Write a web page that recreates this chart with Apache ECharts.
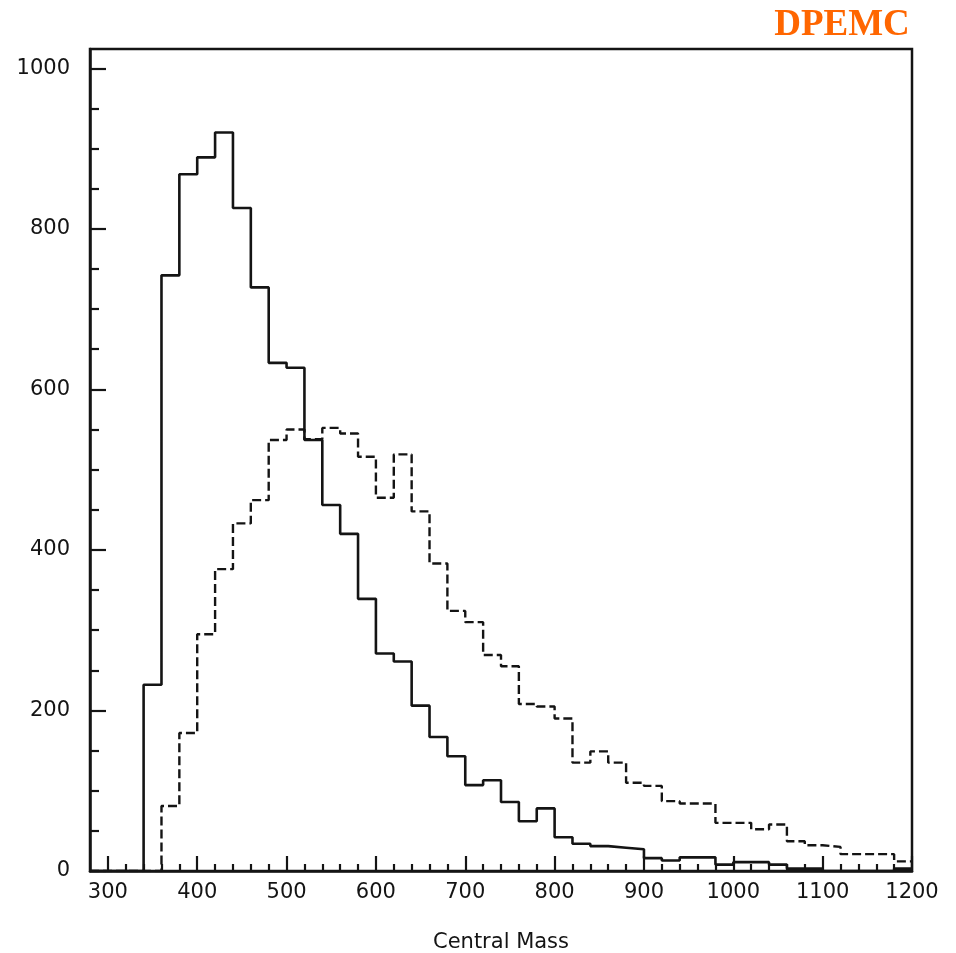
<!DOCTYPE html>
<html>
<head>
<meta charset="utf-8">
<script src="https://cdn.jsdelivr.net/npm/echarts@6/dist/echarts.min.js"></script>
<style>
html,body{margin:0;padding:0;background:#fff;}
#chart{width:956px;height:953px;}
</style>
</head>
<body>
<div id="chart"></div>
<script>
// bin lower edges (bin width 20), last edge 1200 closes the histogram
const binLow = [280,300,320,340,360,380,400,420,440,460,480,500,520,540,560,580,600,620,640,660,
  680,700,720,740,760,780,800,820,840,860,880,900,920,940,960,980,1000,1020,1040,1060,
  1080,1100,1120,1140,1160,1180];
const binEnd = 1200;
// solid histogram
const solidVals = [0,0,0,232,742,868,889,920,826,727,633,627,537,456,420,339,271,261,206,167,
  143,107,113,86,62,78,42,34,31,29,27,16,13,17,17,8,11,11,8,3,
  3,0,0,0,0,3];
// dashed histogram
const dashedVals = [0,0,0,0,81,172,295,376,433,462,537,550,538,552,545,516,465,519,448,383,
  324,310,269,255,208,205,190,135,149,135,110,106,87,84,84,60,60,52,58,37,
  32,30,21,21,21,12];
// axis ticks / labels
const xMajor = [300,400,500,600,700,800,900,1000,1100,1200];
const xMinor = [320,340,360,380,420,440,460,480,520,540,560,580,620,640,660,680,720,740,760,780,
  820,840,860,880,920,940,960,980,1020,1040,1060,1080,1120,1140,1160,1180];
const yMajor = [0,200,400,600,800,1000];
const yMinor = [50,100,150,250,300,350,450,500,550,650,700,750,850,900,950];
const xName = 'Central Mass';
const tag = 'DPEMC';

function stepData(vals){
  const d = binLow.map((x,i)=>[x, vals[i]]);
  d.push([binEnd, vals[vals.length-1]]);
  return d;
}

const FONT = 'DejaVu Sans';
const INK = '#141414';
const plain = v => String(v);
const chart = echarts.init(document.getElementById('chart'), null, {renderer:'canvas'});
chart.setOption({
  animation:false,
  backgroundColor:'#ffffff',
  grid:{left:90, right:44, top:49, bottom:82, containLabel:false, outerBoundsMode:'none',
    show:true, borderColor:INK, borderWidth:2.5, backgroundColor:'transparent'},
  graphic:[{
    type:'text', x:842, y:25,
    style:{text:tag, textAlign:'center', textVerticalAlign:'middle',
      font:'bold 37px "Liberation Serif", "Times New Roman", serif', fill:'#FF6600'}
  }],
  xAxis:[{
    type:'value', min:280, max:1200, position:'bottom',
    axisLine:{show:true, onZero:false, lineStyle:{color:INK, width:2.5}},
    axisTick:{show:true, inside:true, length:15, customValues:xMajor, lineStyle:{color:INK, width:2.2}},
    axisLabel:{show:true, customValues:xMajor, formatter:plain, margin:11, fontFamily:FONT, fontSize:21, color:INK},
    splitLine:{show:false},
    name:xName, nameLocation:'middle', nameGap:61,
    nameTextStyle:{fontFamily:FONT, fontSize:21, color:INK}
  },{
    type:'value', min:280, max:1200, position:'bottom',
    axisLine:{show:false},
    axisTick:{show:true, inside:true, length:7, customValues:xMinor, lineStyle:{color:INK, width:2.2}},
    axisLabel:{show:false},
    splitLine:{show:false}
  }],
  yAxis:[{
    type:'value', min:0, max:1024, position:'left',
    axisLine:{show:true, onZero:false, lineStyle:{color:INK, width:2.5}},
    axisTick:{show:true, inside:true, length:16, customValues:yMajor, lineStyle:{color:INK, width:2.2}},
    axisLabel:{show:true, customValues:yMajor, formatter:plain, margin:20, fontFamily:FONT, fontSize:21, color:INK},
    splitLine:{show:false}
  },{
    type:'value', min:0, max:1024, position:'left',
    axisLine:{show:false},
    axisTick:{show:true, inside:true, length:9, customValues:yMinor, lineStyle:{color:INK, width:2.2}},
    axisLabel:{show:false},
    splitLine:{show:false}
  }],
  series:[{
    type:'line', step:'end', data:stepData(solidVals), symbol:'none',
    lineStyle:{color:INK, width:2.6, type:'solid'}, z:3
  },{
    type:'line', step:'end', data:stepData(dashedVals), symbol:'none',
    lineStyle:{color:INK, width:2.4, type:[9,4]}, z:2
  }]
});
</script>
</body>
</html>
